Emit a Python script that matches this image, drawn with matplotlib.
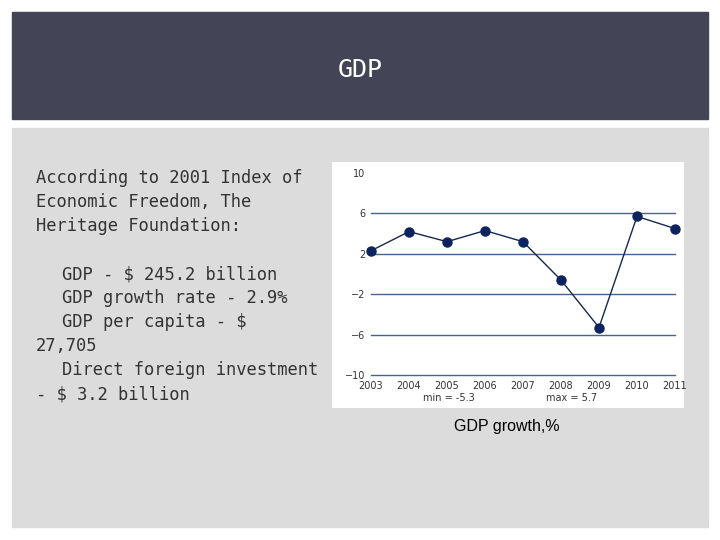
import matplotlib.pyplot as plt
from matplotlib.patches import Rectangle

years = [2003, 2004, 2005, 2006, 2007, 2008, 2009, 2010, 2011]
growth = [2.3, 4.2, 3.2, 4.3, 3.2, -0.6, -5.3, 5.7, 4.5]
yticks = [-10, -6, -2, 2, 6, 10]
grid_levels = [-10, -6, -2, 2, 6]

title = "GDP"
body_lines = [
    "According to 2001 Index of",
    "Economic Freedom, The",
    "Heritage Foundation:",
    "",
    "GDP - \\$ 245.2 billion",
    "GDP growth rate - 2.9%",
    "GDP per capita - \\$",
    "27,705",
    "Direct foreign investment",
    "- \\$ 3.2 billion",
]
indented = [False, False, False, False, True, True, True, False, True, False]
caption = "GDP growth,%"

W, H = 720, 540
fig = plt.figure(figsize=(7.2, 5.4), dpi=100)
fig.patch.set_facecolor('white')

def box(x, y, w, h):
    # pixel box (top-left origin) -> figure fraction
    return [x / W, 1 - (y + h) / H, w / W, h / H]

# header band and body panel
fig.patches.append(Rectangle((12 / W, 1 - 119 / H), 696 / W, 107 / H,
                             transform=fig.transFigure, color='#434556', zorder=-2))
fig.patches.append(Rectangle((12 / W, 1 - 527 / H), 696 / W, 399 / H,
                             transform=fig.transFigure, color='#dcdcdc', zorder=-2))

fig.text(0.5, 1 - 70 / H, title, color='white', fontsize=18,
         ha='center', va='center', family='DejaVu Sans Mono')

# body text, one line every 24 px
for i, line in enumerate(body_lines):
    if not line:
        continue
    x = 62 if indented[i] else 36
    fig.text(x / W, 1 - (178 + 24 * i) / H, line, color='#333333',
             fontsize=12.3, ha='left', va='center', family='DejaVu Sans Mono')

# white chart card
card = fig.add_axes(box(332, 162, 352, 246))
card.set_facecolor('white')
card.set_xticks([])
card.set_yticks([])
for s in card.spines.values():
    s.set_visible(False)

ax = fig.add_axes(box(371, 173, 304, 202))
ax.set_facecolor('none')
for lvl in grid_levels:
    ax.axhline(lvl, color='#46658a', lw=1, zorder=1, clip_on=False)
ax.plot(years, growth, color='#15284f', lw=1.0, marker='o', ms=6.5,
        mfc='#0d2360', mec='#0d2360', zorder=3, clip_on=False)
ax.set_xlim(2003, 2011)
ax.set_ylim(-10, 10)
ax.set_yticks(yticks)
ax.set_xticks(years)
ax.tick_params(length=0, labelsize=7, colors='#333333', pad=4)
for s in ax.spines.values():
    s.set_visible(False)

ax.text(0.257, -0.115, "min = %.1f" % min(growth), transform=ax.transAxes,
        fontsize=7, ha='center', va='center', color='#333333')
ax.text(0.661, -0.115, "max = %.1f" % max(growth), transform=ax.transAxes,
        fontsize=7, ha='center', va='center', color='#333333')

fig.text(507 / W, 1 - 427 / H, caption, fontsize=11.5, ha='center', va='center',
         color='black', family='Liberation Sans')

fig.savefig('out.png', dpi=100)
